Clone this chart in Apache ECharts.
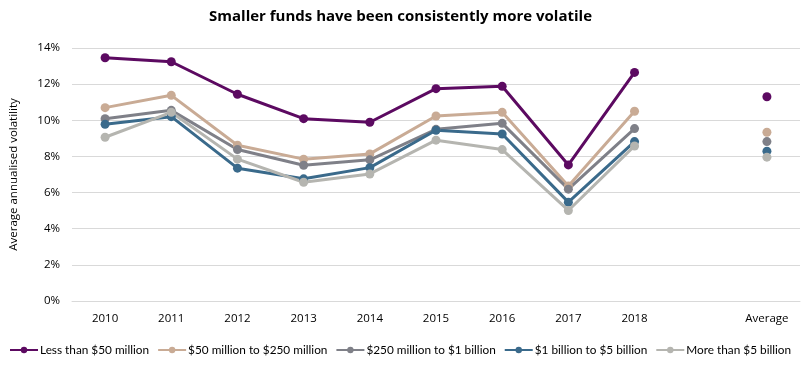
<!DOCTYPE html>
<html><head><meta charset="utf-8">
<script src="https://cdn.jsdelivr.net/npm/echarts@6/dist/echarts.min.js"></script>
<style>html,body{margin:0;padding:0;background:#fff}#c{width:801px;height:369px}</style>
</head><body><div id="c"></div>
<script>
var categories = ['2010','2011','2012','2013','2014','2015','2016','2017','2018','','Average'];
var seriesNames = ['Less than $50 million','$50 million to $250 million','$250 million to $1 billion','$1 billion to $5 billion','More than $5 billion'];
var lessThan50m   = [13.46,13.24,11.44,10.09,9.89,11.75,11.88,7.53,12.65,null,11.30];
var m50to250      = [10.70,11.38,8.62,7.85,8.14,10.24,10.44,6.37,10.50,null,9.34];
var m250to1b      = [10.09,10.55,8.38,7.51,7.81,9.50,9.83,6.19,9.54,null,8.82];
var b1to5         = [9.78,10.20,7.35,6.76,7.38,9.45,9.24,5.47,8.82,null,8.29];
var moreThan5b    = [9.06,10.44,7.85,6.57,7.03,8.90,8.38,5.01,8.58,null,7.96];
var yTicks = [0,2,4,6,8,10,12,14];
var colors = ['#5c0a61','#c9ab95','#7f8088','#3a6a8b','#b5b5b0'];
var font = 'Open Sans';
var data = [lessThan50m,m50to250,m250to1b,b1to5,moreThan5b];
var chart = echarts.init(document.getElementById('c'));
chart.setOption({
  animation:false,
  color: colors,
  title:{text:'Smaller funds have been consistently more volatile',left:'center',top:4,
    textStyle:{fontFamily:font,fontWeight:'bold',fontSize:15,color:'#000'}},
  grid:{left:67,right:1,top:48,bottom:68},
  legend:{left:9,top:344,padding:0,width:792,itemWidth:28,itemHeight:8,itemGap:8,
    textStyle:{fontFamily:'Lato',fontSize:11.8,color:'#000',padding:[0,0,0,-3]},
    data:seriesNames},
  xAxis:{type:'category',data:categories,boundaryGap:true,
    axisLine:{lineStyle:{color:'#d9d9d9'}},axisTick:{show:false},
    axisLabel:{fontFamily:font,fontSize:11.5,color:'#000',margin:12,interval:0}},
  yAxis:{type:'value',min:yTicks[0],max:yTicks[yTicks.length-1],interval:2,
    name:'Average annualised volatility',nameLocation:'middle',nameGap:52,
    nameTextStyle:{fontFamily:font,fontSize:11.5,color:'#000'},
    axisLabel:{fontFamily:font,fontSize:11.5,color:'#000',formatter:'{value}%',margin:12},
    splitLine:{lineStyle:{color:'#d9d9d9'}},axisLine:{show:false},axisTick:{show:false}},
  series: data.map(function(d,i){return {name:seriesNames[i],type:'line',data:d,
    symbol:'circle',symbolSize:9,connectNulls:false,
    lineStyle:{width:3,color:colors[i]},itemStyle:{color:colors[i]}};})
});
</script></body></html>
